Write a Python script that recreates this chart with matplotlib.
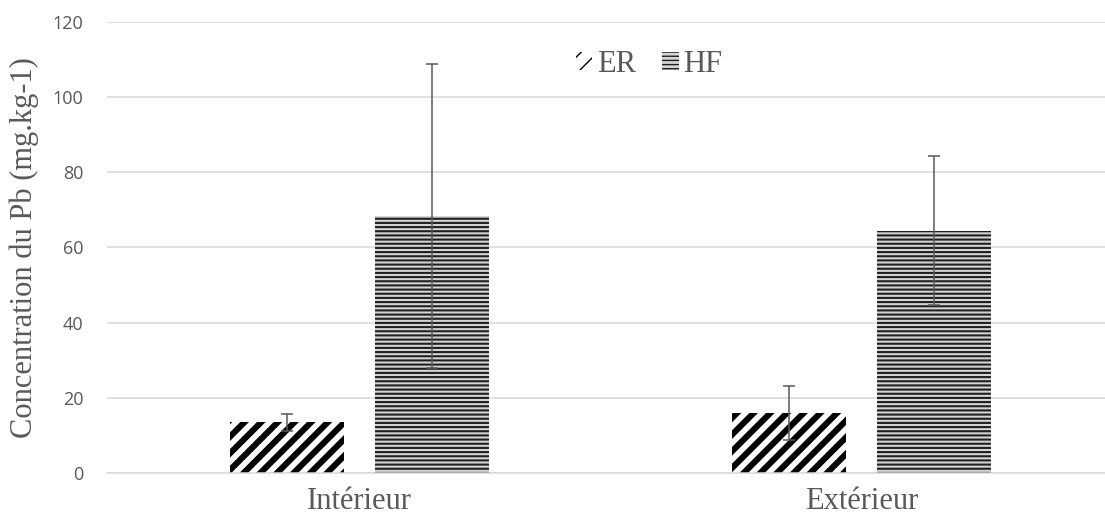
import matplotlib
matplotlib.use("Agg")
import matplotlib.pyplot as plt
import numpy as np

categories = ["Intérieur", "Extérieur"]
series = ["ER", "HF"]
er_means = [13.5, 15.9]
er_errors = [2.3, 7.2]
hf_means = [68.4, 64.5]
hf_errors = [40.4, 19.9]
yticks = [0, 20, 40, 60, 80, 100, 120]

GREY_TEXT = "#595959"
GRID = "#d9d9d9"

fig = plt.figure(figsize=(11.05, 5.24), dpi=100)
ax = fig.add_axes([0.0968, 0.0973, 0.9032, 0.861])

x = np.arange(len(categories))
width = 0.228
offset = 0.144

er_bars = ax.bar(x - offset, er_means, width, facecolor="white",
                 edgecolor="black", linewidth=0, hatch="//", label=series[0], zorder=2)
hf_bars = ax.bar(x + offset, hf_means, width, facecolor="#d4d4d4",
                 edgecolor="#1f1f1f", linewidth=0, hatch="----", label=series[1], zorder=2)

for b in er_bars:
    if hasattr(b, "set_hatch_linewidth"):
        b.set_hatch_linewidth(4.4)
for b in hf_bars:
    if hasattr(b, "set_hatch_linewidth"):
        b.set_hatch_linewidth(1.5)

ax.errorbar(x - offset, er_means, yerr=er_errors, fmt="none", ecolor="#595959",
            elinewidth=1.1, capsize=4.3, capthick=1.1, zorder=3)
ax.errorbar(x + offset, hf_means, yerr=hf_errors, fmt="none", ecolor="#595959",
            elinewidth=1.1, capsize=4.3, capthick=1.1, zorder=3)

ax.set_ylim(0, 120)
ax.set_xlim(-0.503, 1.485)
ax.set_yticks(yticks)
ax.set_yticklabels([str(v) for v in yticks], fontfamily="Open Sans",
                   fontsize=13, color=GREY_TEXT)
ax.set_xticks(x)
ax.set_xticklabels(categories, fontfamily="Liberation Serif", fontsize=22,
                   color=GREY_TEXT)
ax.tick_params(axis="y", length=0, pad=17)
ax.tick_params(axis="x", length=0, pad=10)

ax.yaxis.grid(True, color=GRID, linewidth=1.1, zorder=0)
ax.set_axisbelow(True)
for side in ["top", "right", "left"]:
    ax.spines[side].set_visible(False)
ax.spines["bottom"].set_color(GRID)
ax.spines["bottom"].set_linewidth(1.1)

ax.set_ylabel("Concentration du Pb (mg.kg-1)", fontfamily="Liberation Serif",
              fontsize=22, color=GREY_TEXT, labelpad=10)

leg = ax.legend(loc="center", bbox_to_anchor=(0.543, 0.906), ncol=2,
                frameon=False, handlelength=0.55, handleheight=0.55,
                handletextpad=0.15, columnspacing=0.85,
                prop={"family": "Liberation Serif", "size": 22})
for t in leg.get_texts():
    t.set_color(GREY_TEXT)

fig.savefig("out.png", dpi=100)
